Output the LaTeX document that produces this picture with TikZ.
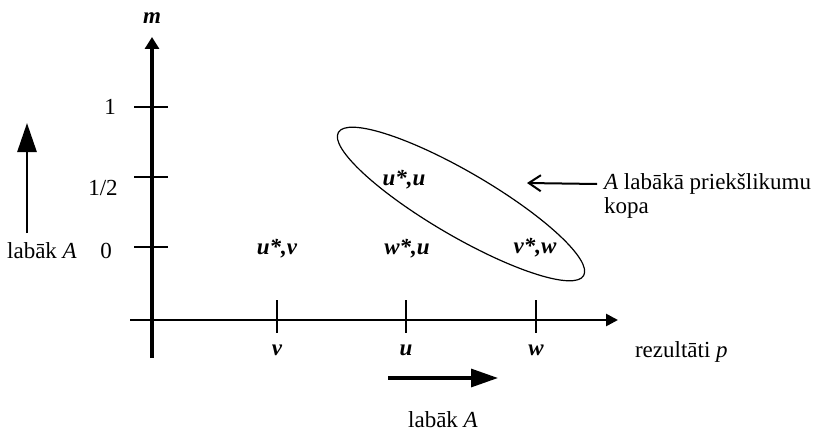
\documentclass[tikz,border=0pt]{standalone}
\usepackage{fontspec}
\setmainfont{Liberation Serif}
\usetikzlibrary{arrows.meta,positioning}

\begin{document}
\begin{tikzpicture}[x=0.5pt,y=-0.5pt,
    axisline/.style={line width=1.9pt},
    tickline/.style={line width=0.7pt},
    pairlbl/.style={font=\fontsize{11.5}{13}\selectfont\bfseries\itshape},
    txtlbl/.style={font=\fontsize{11.5}{13}\selectfont}]
  \useasboundingbox (0,0) rectangle (823,433);

  % axes
  \coordinate (ybot) at (152,358);
  \coordinate (ytop) at (152,37);
  \coordinate (xleft) at (130,320);
  \coordinate (xright) at (618,320);
  \draw[axisline,-{Triangle[length=6pt,width=7pt]}] (ybot) -- (ytop);
  \draw[line width=1.3pt,-{Triangle[length=6pt,width=6pt]}] (xleft) -- (xright);
  \node[pairlbl] (mlbl) at (152,18) {m};

  % m ticks
  \foreach \yy/\txt/\xx/\ly in {107/1/110/107, 177/{1/2}/103/188, 247/0/106/251} {
    \draw[tickline] (134,\yy) -- (168,\yy);
    \node[txtlbl] (m\xx) at (\xx,\ly) {\txt};
  }

  % p ticks
  \foreach \xx/\nm in {277/v, 406/u, 536/w} {
    \draw[tickline] (\xx,300) -- (\xx,333);
    \node[pairlbl] (p\nm) at (\xx,350) {\nm};
  }
  \node[txtlbl,anchor=west] (reslbl) at (628,352) {rezultāti \textit{p}};

  % outcome pairs
  \node[pairlbl] (uv) at (277,249) {u*,v};
  \node[pairlbl] (wu) at (407,249) {w*,u};
  \node[pairlbl] (vw) at (535,248) {v*,w};
  \node[pairlbl] (uu) at (404,180) {u*,u};

  % best set
  \draw[line width=0.6pt,rotate around={-30.3:(461,204)}]
    (461,204) ellipse [x radius=71pt, y radius=16pt];
  \node[txtlbl,anchor=west] (bestlbl) at (597,184) {\textit{A} labākā priekšlikumu};
  \node[txtlbl,anchor=north west,inner sep=0pt] (kopalbl) at ([xshift=3.33pt,yshift=2pt]bestlbl.south west) {kopa};
  \coordinate (besttip) at (527,183);
  \draw[line width=1pt,-{Straight Barb[length=6pt,width=8pt]}] (bestlbl.west) -- (besttip);

  % side arrows
  \coordinate (lfbot) at (27,233);
  \coordinate (lftop) at (27,123);
  \draw[line width=1.4pt,-{Triangle[length=14.5pt,width=9.5pt]}] (lfbot) -- (lftop);
  \node[txtlbl] (lflbl) at (42,251) {labāk \textit{A}};

  \coordinate (btleft) at (388,378);
  \coordinate (btright) at (498,378);
  \draw[line width=1.6pt,-{Triangle[length=13.5pt,width=9pt]}] (btleft) -- (btright);
  \node[txtlbl] (btlbl) at (443,420) {labāk \textit{A}};
\end{tikzpicture}
\end{document}
